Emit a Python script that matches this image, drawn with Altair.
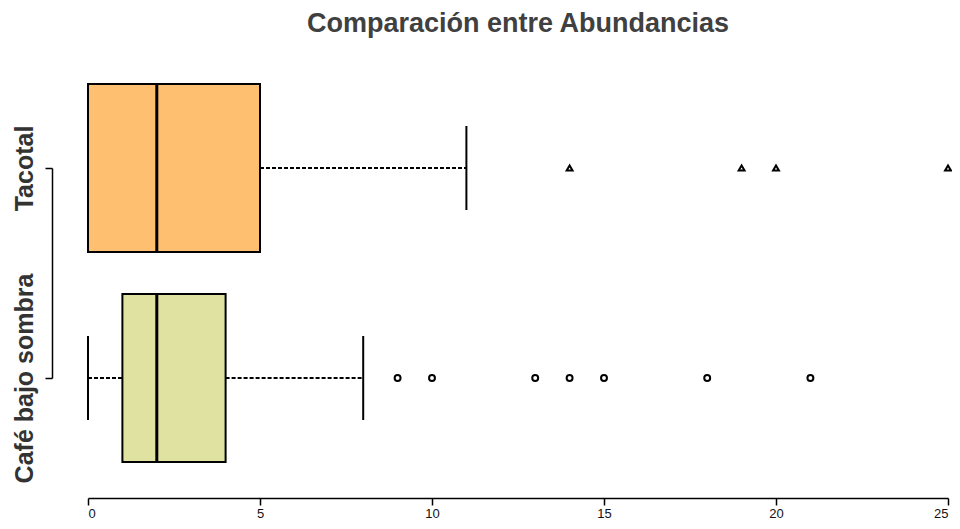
import altair as alt
import pandas as pd

# ---- data ----
groups = ["Tacotal", "Café bajo sombra"]
positions = [2, 1]
q1 = [0, 1]
medians = [2, 2]
q3 = [5, 4]
whisker_low = [0, 0]
whisker_high = [11, 8]
fills = ["#FFBF70", "#E0E2A2"]
outliers_tacotal = [14, 19, 20, 25]
outliers_cafe = [9, 10, 13, 14, 15, 18, 21]
x_ticks = [0, 5, 10, 15, 20, 25]

box_df = pd.DataFrame({
    "grupo": groups, "pos": positions, "q1": q1, "med": medians,
    "q3": q3, "lo": whisker_low, "hi": whisker_high, "fill": fills,
})
whisk_df = pd.DataFrame({
    "pos": positions + positions,
    "a": whisker_low + q3,
    "b": q1 + whisker_high,
})
cap_df = pd.DataFrame({
    "pos": positions + positions,
    "v": whisker_low + whisker_high,
})
out_df = pd.DataFrame({
    "pos": [positions[0]] * len(outliers_tacotal) + [positions[1]] * len(outliers_cafe),
    "v": outliers_tacotal + outliers_cafe,
    "grupo": [groups[0]] * len(outliers_tacotal) + [groups[1]] * len(outliers_cafe),
})

xs = alt.Scale(domain=[0, 25], nice=False, zero=False)
ys = alt.Scale(domain=[1, 2], nice=False, zero=False)

x_axis = alt.Axis(values=x_ticks, offset=120, tickSize=7, domainColor="black",
                  tickColor="black", domainWidth=1.5, tickWidth=1.5, grid=False,
                  labelFont="Liberation Sans", labelFontSize=13, labelColor="#111",
                  labelPadding=2, title=None)
y_axis = alt.Axis(values=[1, 2], offset=36, tickSize=7, domainColor="black",
                  tickColor="black", domainWidth=1.5, tickWidth=1.5, grid=False,
                  labelExpr="datum.value == 2 ? 'Tacotal' : 'Café bajo sombra'",
                  labelAngle=270, labelAlign="center", labelBaseline="bottom",
                  labelFont="Liberation Sans", labelFontSize=25, labelFontWeight="bold",
                  labelColor="#333", labelPadding=8, labelLimit=0, labelOverlap=False,
                  title=None)

whiskers = alt.Chart(whisk_df).mark_rule(color="black", strokeWidth=2, strokeDash=[4, 2]).encode(
    x=alt.X("a:Q", scale=xs, axis=x_axis), x2="b:Q",
    y=alt.Y("pos:Q", scale=ys, axis=y_axis),
)

caps = alt.Chart(cap_df).transform_calculate(
    y0="datum.pos - 0.2", y1="datum.pos + 0.2"
).mark_rule(color="black", strokeWidth=2).encode(
    x=alt.X("v:Q", scale=xs), y=alt.Y("y0:Q", scale=ys), y2="y1:Q",
)

boxes = alt.Chart(box_df).transform_calculate(
    y0="datum.pos - 0.4", y1="datum.pos + 0.4"
).mark_rect(stroke="black", strokeWidth=2).encode(
    x=alt.X("q1:Q", scale=xs), x2="q3:Q",
    y=alt.Y("y0:Q", scale=ys), y2="y1:Q",
    fill=alt.Fill("fill:N", scale=None),
)

med = alt.Chart(box_df).transform_calculate(
    y0="datum.pos - 0.4", y1="datum.pos + 0.4"
).mark_rule(color="black", strokeWidth=3).encode(
    x=alt.X("med:Q", scale=xs), y=alt.Y("y0:Q", scale=ys), y2="y1:Q",
)

outs = alt.Chart(out_df).mark_point(filled=False, color="black", strokeWidth=2, size=35,
                                    opacity=1).encode(
    x=alt.X("v:Q", scale=xs), y=alt.Y("pos:Q", scale=ys),
    shape=alt.Shape("grupo:N", scale=alt.Scale(domain=groups, range=["triangle-up", "circle"]), legend=None),
)

chart = alt.layer(whiskers, caps, boxes, med, outs).properties(
    width=860, height=210,
    title=alt.TitleParams("Comparación entre Abundancias", font="Liberation Sans", fontSize=27,
                          fontWeight="bold", color="#404040", anchor="middle", frame="group", offset=45),
    autosize=alt.AutoSizeParams(type="none"),
    padding={"left": 80, "top": 160, "right": 4, "bottom": 143},
).configure(background="white").configure_view(strokeWidth=0, stroke="transparent")

chart.save("out.html", embed_options={"renderer": "svg", "actions": False})
